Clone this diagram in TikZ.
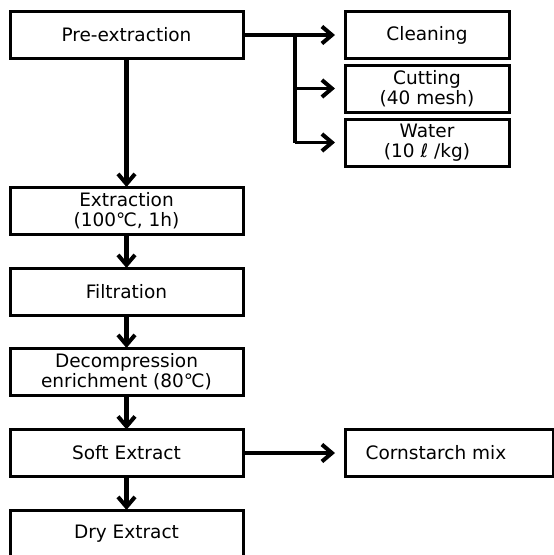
\documentclass[tikz,border=0pt]{standalone}
\usepackage{fontspec}
\setmainfont{DejaVu Sans}
\usetikzlibrary{arrows.meta,positioning}

\tikzset{
  stepbox/.style={draw,line width=3pt,minimum height=47pt,outer sep=0pt,
    align=center,font=\fontsize{18.5}{20}\selectfont},
  mainbox/.style={stepbox,minimum width=233pt},
  sidebox/.style={stepbox,minimum width=164pt},
  flow/.style={line width=4.4pt,-{Straight Barb[length=10pt,width=17pt,line width=4pt]}},
  feed/.style={line width=3.2pt,-{Straight Barb[length=10pt,width=17pt,line width=4pt]}}
}

\begin{document}
\begin{tikzpicture}[x=1pt,y=-1pt]
  \useasboundingbox (0,0) rectangle (554,555);
  % main line
  \node[mainbox] (pre) at (126.5,35) {Pre-extraction};
  \node[mainbox] (extr) at (126.5,210.5) {Extraction\\(100℃, 1h)};
  \node[mainbox] (filt) at (126.5,291.5) {Filtration};
  \node[mainbox] (decomp) at (126.5,371.5) {Decompression\\enrichment (80℃)};
  \node[mainbox] (soft) at (126.5,453) {Soft Extract};
  \node[mainbox] (dry) at (126.5,533.5) {Dry Extract};
  % side boxes
  \node[sidebox] (clean) at (427,35) {Cleaning};
  \node[sidebox] (cut) at (427,88.5) {Cutting\\(40 mesh)};
  \node[sidebox] (water) at (427,142.5) {Water\\(10 ℓ /kg)};
  \node[stepbox,minimum width=208pt] (corn) at (449,453) {};
  \node[font=\fontsize{18.5}{20}\selectfont] (corntxt) at (436,453) {Cornstarch mix};
  % branches
  \coordinate (fork) at (295,35);
  \coordinate (forkend) at (295,142.5);
  \draw[feed,shorten >=10pt] (pre.east) -- (clean.west);
  \draw[line width=4.4pt] (fork) -- (forkend);
  \draw[feed,shorten >=10pt] (fork |- cut.west) -- (cut.west);
  \draw[feed,shorten >=10pt] (forkend) -- (water.west);
  \draw[feed,shorten >=10pt] (soft.east) -- (corn.west);
  % flow
  \draw[flow] (pre) -- (extr);
  \draw[flow] (extr) -- (filt);
  \draw[flow] (filt) -- (decomp);
  \draw[flow] (decomp) -- (soft);
  \draw[flow] (soft) -- (dry);
\end{tikzpicture}
\end{document}
